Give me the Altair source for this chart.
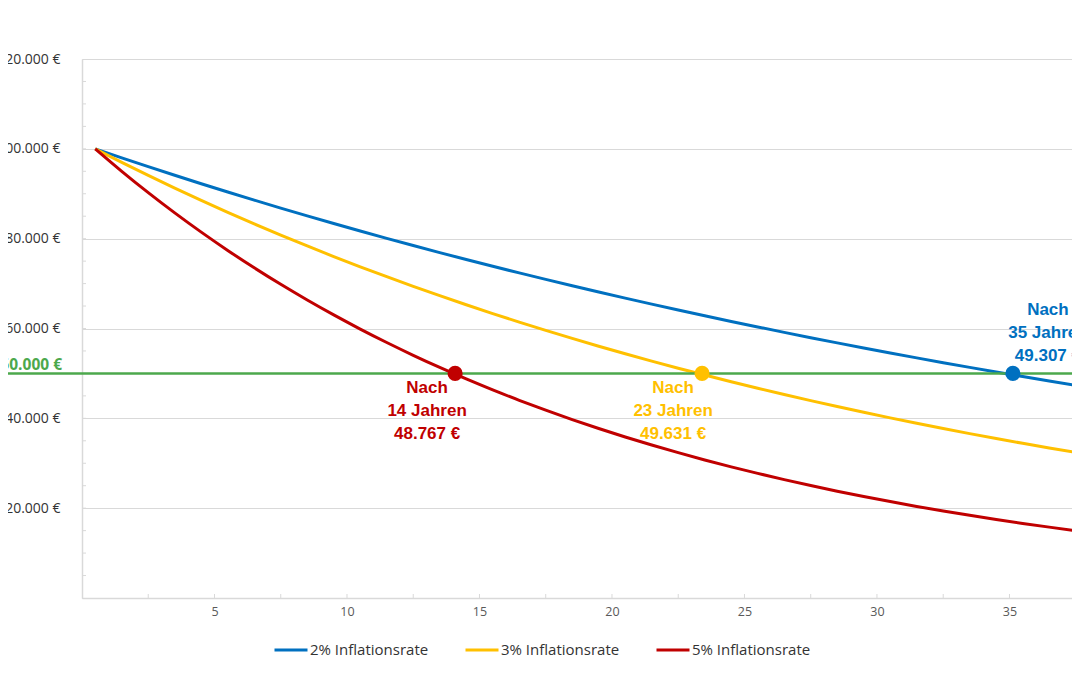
import altair as alt
import pandas as pd

# ---------------- data ----------------
years = list(range(39))
infl_2 = [100000, 98000, 96040, 94119, 92237, 90392, 88584, 86813, 85076, 83375,
          81707, 80073, 78472, 76902, 75364, 73857, 72380, 70932, 69514, 68123,
          66761, 65426, 64117, 62835, 61578, 60346, 59140, 57957, 56798, 55662,
          54548, 53457, 52388, 51341, 50314, 49307, 48321, 47355, 46408]
infl_3 = [100000, 97000, 94090, 91267, 88529, 85873, 83297, 80798, 78374, 76023,
          73742, 71530, 69384, 67303, 65284, 63325, 61425, 59583, 57795, 56061,
          54379, 52748, 51166, 49631, 48142, 46698, 45297, 43938, 42620, 41341,
          40101, 38898, 37731, 36599, 35501, 34436, 33403, 32401, 31429]
infl_5 = [100000, 95000, 90250, 85738, 81451, 77378, 73509, 69834, 66342, 63025,
          59874, 56880, 54036, 51334, 48767, 46329, 44013, 41812, 39721, 37735,
          35849, 34056, 32353, 30736, 29199, 27739, 26352, 25034, 23783, 22594,
          21464, 20391, 19371, 18403, 17483, 16608, 15778, 14989, 14240]
series_names = ["2% Inflationsrate", "3% Inflationsrate", "5% Inflationsrate"]
series_colors = ["#0070C0", "#FFC000", "#C00000"]

threshold = 50000
dot_years = [34.63, 22.9, 13.58]
dot_series = ["2% Inflationsrate", "3% Inflationsrate", "5% Inflationsrate"]
ann_texts = ["Nach\n35 Jahren\n49.307 €", "Nach\n23 Jahren\n49.631 €", "Nach\n14 Jahren\n48.767 €"]

x_ticks = [2.5 * i for i in range(1, 15)]
y_minor = [5000 * i for i in range(1, 24)]
x_labels = [5, 10, 15, 20, 25, 30, 35]
y_labels = [0, 20000, 40000, 60000, 80000, 100000, 120000]

# ---------------- layout ----------------
W, H = 990, 539
XDOM = [0, 37.36]
YDOM = [0, 120000]
FONT = "Open Sans"
BOLD_FONT = "Liberation Sans"

rows = []
for name, vals in zip(series_names, [infl_2, infl_3, infl_5]):
    for yr, v in zip(years, vals):
        rows.append({"year": yr, "value": v, "series": name})
df = pd.DataFrame(rows)

xs = alt.Scale(domain=XDOM, nice=False, zero=False)
ys = alt.Scale(domain=YDOM, nice=False)
cs = alt.Scale(domain=series_names, range=series_colors)

lines = alt.Chart(df).transform_calculate(
    xpos="datum.year + 0.5"
).mark_line(strokeWidth=3, clip=True, interpolate="monotone").encode(
    x=alt.X("xpos:Q", scale=xs, title=None, axis=alt.Axis(
        values=x_labels, grid=False, ticks=False, tickSize=0, domainColor="#D9D9D9",
        domainWidth=1.5, labelColor="#595959", labelFont=FONT, labelFontSize=12.5,
        labelPadding=7, title=None)),
    y=alt.Y("value:Q", scale=ys, title=None, axis=alt.Axis(
        values=y_labels, grid=True, gridColor="#D9D9D9", gridWidth=1, ticks=False,
        tickSize=0, domainColor="#D9D9D9", domainWidth=1.5, labelColor="#333333",
        labelFont=FONT, labelFontSize=14, labelPadding=22, title=None,
        labelExpr="datum.value == 0 ? '' : replace(format(datum.value, ',.0f'), ',', '.') + ' €'")),
    color=alt.Color("series:N", scale=cs, legend=alt.Legend(
        title=None, orient="none", legendX=191, legendY=573, direction="horizontal",
        symbolType="stroke", symbolStrokeWidth=3, symbolSize=1089,
        labelFont=FONT, labelFontSize=15, labelColor="#333333", labelOffset=1,
        columnPadding=30, padding=0)),
)

xt_df = pd.DataFrame({"t": x_ticks})
xticks = alt.Chart(xt_df).mark_rule(color="#D9D9D9", strokeWidth=1).encode(
    x=alt.X("t:Q", scale=xs, title=None), y=alt.value(H), y2=alt.value(H - 4))

yt_df = pd.DataFrame({"t": y_minor})
yticks = alt.Chart(yt_df).mark_rule(color="#D9D9D9", strokeWidth=1).encode(
    y=alt.Y("t:Q", scale=ys, title=None), x=alt.value(0), x2=alt.value(4))

green_df = pd.DataFrame({"v": [threshold]})
green = alt.Chart(green_df).mark_rule(color="#4CA84C", strokeWidth=2.5).encode(
    y=alt.Y("v:Q", scale=ys, title=None), x=alt.value(-74), x2=alt.value(W))
green_lbl = alt.Chart(green_df).transform_calculate(
    lbl="replace(format(datum.v, ',.0f'), ',', '.') + ' €'"
).mark_text(color="#4CA84C", font=FONT, fontSize=15.5, fontWeight="bold",
            align="right", baseline="alphabetic", dy=-3).encode(
    y=alt.Y("v:Q", scale=ys, title=None), x=alt.value(-20), text="lbl:N")

dots_df = pd.DataFrame({"year": dot_years, "value": [threshold] * 3, "series": dot_series,
                        "txt": ann_texts})
dots = alt.Chart(dots_df).transform_calculate(
    xpos="datum.year + 0.5"
).mark_circle(size=230, opacity=1).encode(
    x=alt.X("xpos:Q", scale=xs, title=None),
    y=alt.Y("value:Q", scale=ys, title=None),
    color=alt.Color("series:N", scale=cs, legend=None))

ann_dx = [35, -29, -28]
ann_dy = [-58, 20, 20]
anns = []
for i in range(3):
    anns.append(
        alt.Chart(dots_df.iloc[[i]]).transform_calculate(
            xpos="datum.year + 0.5"
        ).mark_text(font=BOLD_FONT, fontSize=17, fontWeight="bold", align="center",
                    baseline="alphabetic", lineBreak="\n", lineHeight=23,
                    dx=ann_dx[i], dy=ann_dy[i], color=series_colors[i]).encode(
            x=alt.X("xpos:Q", scale=xs, title=None),
            y=alt.Y("value:Q", scale=ys, title=None),
            text="txt:N")
    )

chart = alt.layer(lines, xticks, yticks, green, green_lbl, dots, *anns).properties(
    width=W, height=H,
    autosize=alt.AutoSizeParams(type="none"),
    padding={"left": 74, "top": 51, "right": 0, "bottom": 62},
).configure_view(stroke=None).configure(background="white")

chart.save("out.html", embed_options={"renderer": "svg", "actions": False})
